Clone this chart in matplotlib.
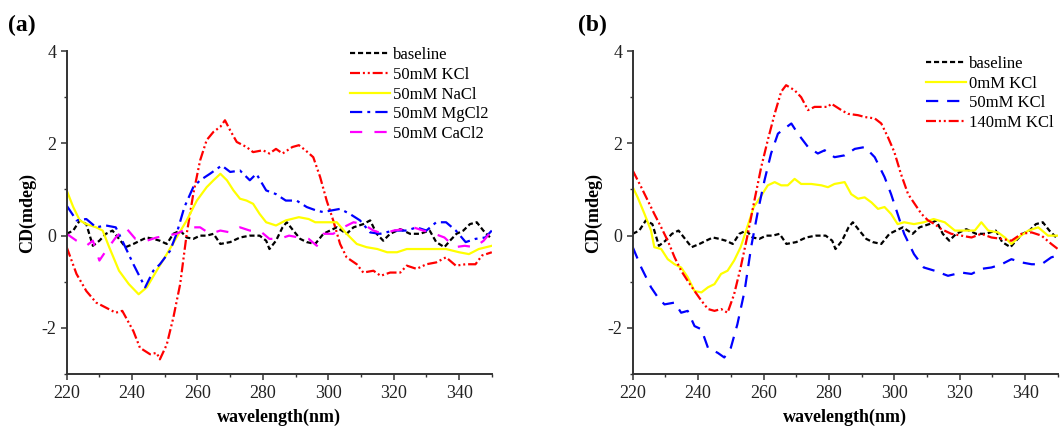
import matplotlib
matplotlib.use("Agg")
import matplotlib.pyplot as plt
from matplotlib.ticker import MultipleLocator

plt.rcParams['font.family'] = 'Liberation Serif'
plt.rcParams['axes.unicode_minus'] = False

# --- data (wavelength in nm, CD in mdeg) ---
base_x = [220, 222, 224, 226, 228, 230, 232, 234, 236, 238, 240.4, 242.4, 244.5, 246.5, 248.5,
          250.6, 252.6, 254.7, 256.7, 258.7, 260.8, 262.8, 264.9, 267, 270, 273, 276, 279, 281,
          282, 284, 286, 287.3, 289.3, 291.4, 293.4, 296, 298.5, 300.5, 302.6, 305.6, 307.7,
          310.7, 312.8, 314.8, 316.8, 318.9, 322, 325, 328, 331, 333, 335.5, 337.2, 339.2,
          341.3, 343.3, 345.4, 347.4, 349.5]
base_y = [0.04, 0.11, 0.33, 0.25, -0.22, -0.11, 0.04, 0.11, -0.07, -0.25, -0.18, -0.11, -0.04,
          -0.07, -0.11, -0.18, 0.04, 0.11, -0.04, -0.07, 0.0, 0.0, 0.04, -0.18, -0.14, -0.04,
          0.0, 0.0, -0.11, -0.29, -0.11, 0.18, 0.29, 0.11, -0.07, -0.14, -0.18, 0.04, 0.11,
          0.18, 0.04, 0.18, 0.25, 0.33, 0.04, -0.11, 0.04, 0.14, 0.04, 0.04, 0.11, -0.14,
          -0.25, -0.11, 0.04, 0.11, 0.25, 0.29, 0.11, -0.04]

# panel (a)
kcl_x = [220, 223, 226, 229, 232, 235, 237, 240.4, 242.4, 245.5, 247.5, 248.5, 250.6, 252.6,
         254.7, 256.7, 258.7, 260.8, 262.8, 264.9, 267, 268.4, 270, 272, 275, 277, 280, 282,
         284, 286, 289, 291, 293, 295.4, 297.5, 299.5, 301.5, 303.6, 305.6, 308.7, 310.7,
         313.8, 316, 318.9, 322, 324, 327, 330, 333, 336, 339, 342, 345, 347, 350]
kcl_y = [-0.25, -0.83, -1.2, -1.45, -1.56, -1.67, -1.63, -2.07, -2.43, -2.57, -2.54, -2.68,
         -2.36, -1.78, -1.05, 0.04, 0.9, 1.63, 2.07, 2.25, 2.36, 2.5, 2.28, 2.03, 1.92, 1.81,
         1.85, 1.78, 1.88, 1.78, 1.92, 1.96, 1.85, 1.7, 1.27, 0.76, 0.33, -0.18, -0.47,
         -0.62, -0.8, -0.76, -0.87, -0.8, -0.8, -0.65, -0.72, -0.62, -0.58, -0.47, -0.65,
         -0.62, -0.62, -0.43, -0.36]

nacl_x = [220, 222, 224, 226, 229, 231, 233, 236, 239, 242, 244.5, 247.5, 250.6, 253.6, 256.7,
          259.8, 262.8, 264.9, 267, 269, 271, 273, 275, 277, 279, 281, 284, 287, 291, 294, 296,
          299, 302.6, 305.6, 308.7, 311.7, 315, 318, 321, 324, 327, 332, 336, 340, 343, 346, 350]
nacl_y = [0.98, 0.62, 0.33, 0.25, 0.18, 0.11, -0.25, -0.76, -1.05, -1.27, -1.12, -0.76, -0.4,
          -0.04, 0.33, 0.76, 1.05, 1.2, 1.34, 1.2, 0.98, 0.8, 0.76, 0.69, 0.47, 0.29, 0.22,
          0.33, 0.4, 0.36, 0.29, 0.29, 0.29, 0.04, -0.18, -0.25, -0.29, -0.36, -0.36, -0.29,
          -0.29, -0.29, -0.29, -0.36, -0.4, -0.29, -0.22]

mgcl_x = [220, 223, 226, 229, 232, 235, 237, 240.4, 242.4, 244, 246.5, 248.5, 251.6, 253.6,
          256, 258.7, 260.8, 263.8, 267.4, 270, 273, 276, 278, 281, 284, 287, 290.3, 293.4,
          296.5, 298.5, 300.5, 303.6, 306.6, 309.7, 312.8, 315.8, 320, 324, 327, 330, 333,
          336, 339, 342, 345, 348, 350]
mgcl_y = [0.65, 0.33, 0.36, 0.18, 0.22, 0.18, -0.11, -0.62, -0.9, -1.12, -0.76, -0.62, -0.33,
          0.04, 0.62, 1.05, 1.2, 1.34, 1.52, 1.38, 1.41, 1.2, 1.34, 0.98, 0.9, 0.76, 0.76,
          0.62, 0.54, 0.51, 0.54, 0.58, 0.47, 0.33, 0.07, 0.04, 0.11, 0.11, 0.18, 0.11, 0.29,
          0.29, 0.11, -0.14, -0.07, -0.04, 0.11]

cacl_x = [220, 223, 226, 228, 230, 232, 235, 238, 241, 244.5, 247.5, 250.6, 253.6, 257.7,
          260.8, 263.8, 267, 270, 273, 276, 279, 282, 285, 288, 291, 294, 296.5, 298.5, 301.5,
          304.6, 307.7, 310.7, 313.8, 316.8, 320, 323, 326, 329, 332.5, 335.5, 338.7, 341.7,
          344.8, 347.5, 350]
cacl_y = [0.04, -0.11, -0.22, -0.11, -0.54, -0.33, -0.04, 0.18, -0.07, -0.11, -0.04, 0.0, 0.04,
          0.18, 0.18, 0.04, 0.11, 0.07, 0.18, 0.11, 0.11, -0.07, -0.07, 0.0, -0.04, -0.07,
          -0.22, 0.04, 0.04, 0.18, 0.29, 0.25, 0.11, 0.04, 0.11, 0.14, 0.18, 0.11, 0.04, -0.04,
          -0.25, -0.22, -0.25, -0.11, 0.11]

# panel (b)
k0_x = [220, 221.5, 223.6, 225.6, 226.6, 228.7, 230.7, 232.8, 234.8, 236.8, 238.9, 241, 243,
        245, 247, 249, 251, 253, 255, 257, 259, 261.3, 263.4, 265.4, 267.4, 269.5, 271.5,
        274.6, 277.7, 279.7, 281.7, 284.8, 286.8, 288.9, 290.9, 293, 295, 297, 299, 301, 303,
        306, 309, 312, 315.4, 318.5, 321.5, 324.6, 326.6, 328.7, 331.7, 333.8, 335.8, 337.9,
        341, 344, 347, 350]
k0_y = [1.05, 0.83, 0.47, 0.11, -0.25, -0.29, -0.51, -0.62, -0.69, -0.9, -1.2, -1.23, -1.12,
        -1.05, -0.83, -0.76, -0.54, -0.25, 0.18, 0.62, 0.83, 1.09, 1.16, 1.09, 1.09, 1.23,
        1.12, 1.12, 1.09, 1.05, 1.12, 1.16, 0.9, 0.8, 0.83, 0.72, 0.58, 0.62, 0.47, 0.25,
        0.29, 0.25, 0.29, 0.36, 0.29, 0.11, 0.11, 0.11, 0.29, 0.11, 0.07, -0.04, -0.18, -0.04,
        0.11, 0.18, 0.0, 0.0]

k50_x = [220, 222.6, 225.6, 227.7, 229.7, 232.8, 234.8, 236.8, 238.9, 241, 243, 246, 248, 250,
         252, 254.2, 256.2, 258.3, 260.3, 262.3, 264.4, 266.4, 268.5, 270.5, 273.6, 276.6,
         278.7, 281.7, 284.8, 287.9, 291, 294, 297, 299, 301, 303, 306, 309, 312.3, 316.4,
         320.5, 323.6, 326.6, 329.7, 332.8, 335.8, 338.9, 342, 345, 348, 350]
k50_y = [-0.25, -0.69, -1.12, -1.34, -1.49, -1.45, -1.67, -1.63, -1.96, -2.03, -2.43, -2.54,
         -2.64, -2.43, -1.92, -1.2, -0.25, 0.54, 1.2, 1.78, 2.21, 2.32, 2.43, 2.21, 1.92, 1.78,
         1.85, 1.7, 1.74, 1.88, 1.92, 1.7, 1.27, 0.9, 0.47, 0.04, -0.4, -0.69, -0.76, -0.87,
         -0.8, -0.83, -0.72, -0.69, -0.62, -0.51, -0.58, -0.62, -0.62, -0.47, -0.43]

k140_x = [220, 222.6, 224.6, 226.6, 228.7, 230.7, 232.8, 234.8, 236.8, 238.9, 241, 243, 245,
          247, 249, 251, 253, 255.2, 257.2, 259.3, 261.3, 263.4, 265.4, 266.9, 269.5, 271.5,
          273.6, 275.6, 277.7, 279.7, 280.7, 283.8, 285.8, 288.9, 291, 294, 296, 298, 300,
          302, 304.2, 306.2, 308.3, 310.3, 312.3, 314.4, 317.4, 320.5, 323.6, 326.6, 329.7,
          332.8, 335.8, 338.9, 342, 345, 348, 350]
k140_y = [1.41, 1.05, 0.76, 0.47, 0.18, -0.11, -0.47, -0.76, -0.98, -1.2, -1.41, -1.59, -1.63,
          -1.59, -1.67, -1.27, -0.69, 0.04, 0.76, 1.49, 2.07, 2.64, 3.12, 3.26, 3.15, 3.0,
          2.72, 2.79, 2.79, 2.79, 2.86, 2.72, 2.64, 2.61, 2.57, 2.54, 2.43, 2.14, 1.81, 1.34,
          0.9, 0.69, 0.47, 0.33, 0.25, 0.14, 0.04, 0.0, -0.04, 0.04, -0.04, -0.07, -0.11,
          0.04, 0.07, 0.0, -0.18, -0.29]

# --- line styles ---
LW = 1.6
dash_base = (0, (2.3, 1.3))
dash_ddot = (0, (4.5, 1.3, 0.9, 1.3, 0.9, 1.3))
dash_dot = (0, (5.5, 2.3, 1.3, 2.3))
dash_long = (0, (5.5, 5.5))
dash_med = (0, (5.5, 4.0))


def style_axes(ax):
    ax.set_xlim(220, 350)
    ax.set_ylim(-3, 4)
    ax.xaxis.set_major_locator(MultipleLocator(20))
    ax.xaxis.set_minor_locator(MultipleLocator(10))
    ax.yaxis.set_major_locator(MultipleLocator(2))
    ax.yaxis.set_minor_locator(MultipleLocator(1))
    for s in ['top', 'right']:
        ax.spines[s].set_visible(False)
    for s in ['left', 'bottom']:
        ax.spines[s].set_linewidth(1.4)
        ax.spines[s].set_color('#333333')
    ax.tick_params(which='major', direction='out', length=4, width=1.1, colors='#333333',
                   labelsize=13, labelcolor='#222222')
    ax.tick_params(which='minor', direction='out', length=2.5, width=1.0, colors='#333333')
    ax.set_xlabel('wavelength(nm)', fontsize=13, fontweight='bold', labelpad=5)
    ax.set_ylabel('CD(mdeg)', fontsize=13, fontweight='bold', labelpad=4)


fig = plt.figure(figsize=(10.62, 4.29), dpi=100)
ax_a = fig.add_axes([0.0628, 0.128, 0.4003, 0.753])
ax_b = fig.add_axes([0.5958, 0.128, 0.4003, 0.753])

# (a)
ax_a.plot(base_x, base_y, color='black', lw=LW, linestyle=dash_base, label='baseline')
ax_a.plot(kcl_x, kcl_y, color='#ff0000', lw=LW, linestyle=dash_ddot, label='50mM KCl')
ax_a.plot(nacl_x, nacl_y, color='#ffff00', lw=LW, label='50mM NaCl')
ax_a.plot(mgcl_x, mgcl_y, color='#0000ff', lw=LW, linestyle=dash_dot, label='50mM MgCl2')
ax_a.plot(cacl_x, cacl_y, color='#ff00ff', lw=LW, linestyle=dash_long, label='50mM CaCl2')
style_axes(ax_a)
ax_a.legend(loc='upper left', bbox_to_anchor=(0.667, 1.012), frameon=False, fontsize=12,
            handlelength=2.4, handletextpad=0.15, labelspacing=0.22, borderpad=0,
            borderaxespad=0)

# (b)
ax_b.plot(base_x, base_y, color='black', lw=LW, linestyle=dash_base, label='baseline')
ax_b.plot(k0_x, k0_y, color='#ffff00', lw=LW, label='0mM KCl')
ax_b.plot(k50_x, k50_y, color='#0000ff', lw=LW, linestyle=dash_med, label='50mM KCl')
ax_b.plot(k140_x, k140_y, color='#ff0000', lw=LW, linestyle=dash_ddot, label='140mM KCl')
style_axes(ax_b)
ax_b.legend(loc='upper left', bbox_to_anchor=(0.69, 0.985), frameon=False, fontsize=12,
            handlelength=2.4, handletextpad=0.15, labelspacing=0.22, borderpad=0,
            borderaxespad=0)

fig.text(8 / 1062, 1 - 25 / 429, '(a)', fontsize=17, fontweight='bold', va='center')
fig.text(578 / 1062, 1 - 25 / 429, '(b)', fontsize=17, fontweight='bold', va='center')

fig.savefig('out.png', dpi=100)
